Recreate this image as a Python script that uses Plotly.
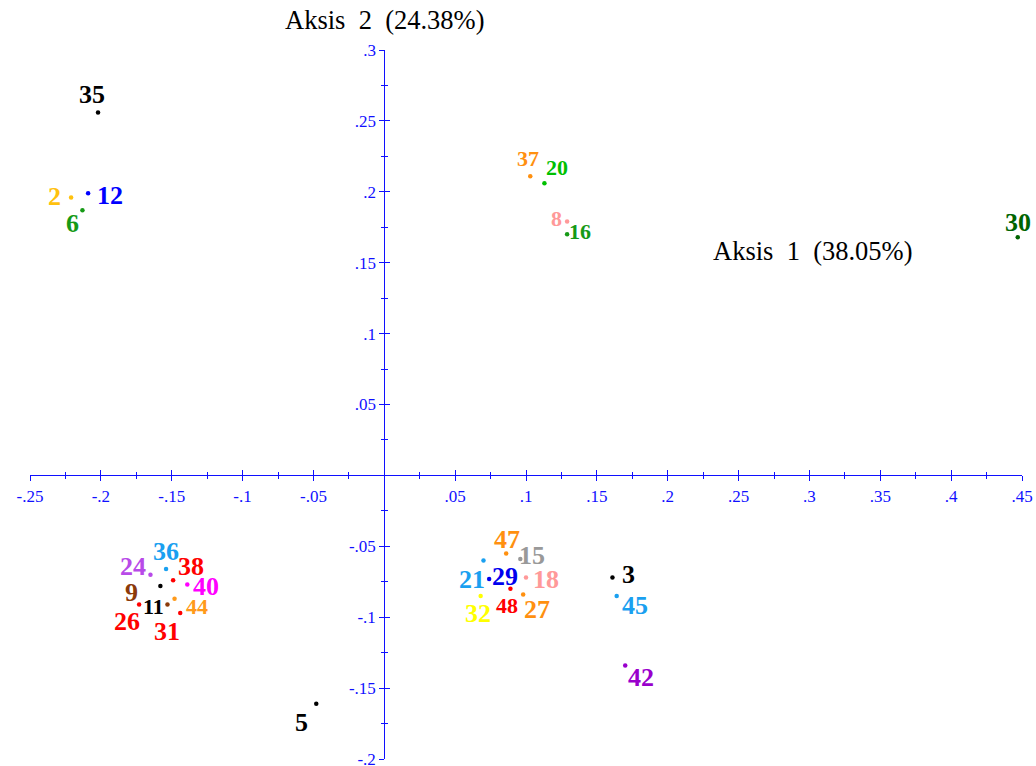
import plotly.graph_objects as go

# ---- data ----
ids = ["35", "2", "12", "6", "37", "20", "8", "16", "30",
       "24", "36", "38", "40", "11", "9", "26", "44", "31",
       "47", "15", "21", "29", "18", "48", "32", "27",
       "3", "45", "42", "5"]
axis1 = [-0.202, -0.221, -0.209, -0.213, 0.103, 0.113, 0.129, 0.129, 0.447,
         -0.165, -0.154, -0.149, -0.139, -0.158, -0.153, -0.173, -0.148, -0.144,
         0.086, 0.096, 0.070, 0.074, 0.100, 0.089, 0.068, 0.098,
         0.161, 0.164, 0.170, -0.048]
axis2 = [0.256, 0.196, 0.199, 0.187, 0.211, 0.206, 0.179, 0.170, 0.168,
         -0.070, -0.066, -0.074, -0.077, -0.078, -0.091, -0.091, -0.087, -0.097,
         -0.055, -0.059, -0.060, -0.073, -0.072, -0.080, -0.085, -0.084,
         -0.072, -0.085, -0.134, -0.161]

x_major = [-0.25, -0.2, -0.15, -0.1, -0.05, 0.05, 0.1, 0.15, 0.2, 0.25, 0.3, 0.35, 0.4, 0.45]
x_minor = [-0.225, -0.175, -0.125, -0.075, -0.025, 0.025, 0.075, 0.125, 0.175,
           0.225, 0.275, 0.325, 0.375, 0.425]
y_major = [-0.2, -0.15, -0.1, -0.05, 0.05, 0.1, 0.15, 0.2, 0.25, 0.3]
y_minor = [-0.175, -0.125, -0.075, -0.025, 0.025, 0.075, 0.125, 0.175, 0.225, 0.275]

axis1_title = "Aksis\u00a0\u00a01\u00a0\u00a0(38.05%)"
axis2_title = "Aksis\u00a0\u00a02\u00a0\u00a0(24.38%)"

# ---- styles ----
colors = ["#000000", "#ffc10e", "#0000ff", "#169a16", "#ff9010", "#00c000", "#ff9999", "#169a16", "#006400",
          "#b84ae8", "#1aa0f0", "#ff0000", "#ff00ff", "#000000", "#8b3a0a", "#ff0000", "#ff9a1a", "#ff0000",
          "#ff9010", "#999999", "#1aa0f0", "#0000ee", "#ff9999", "#ff0000", "#ffff00", "#ff9010",
          "#000000", "#1aa0f0", "#9900cc", "#000000"]
# label offsets from the dot, in pixels (dx right, dy down)
offsets = [(-6, -18), (-17, -1), (22, 2), (-10, 13), (-2, -18), (13, -16), (-11, -3), (13, -3), (0, -15),
           (-17, -8), (0, -17), (18, -14), (19, 2), (-7, 20), (-36, -12), (-12, 17), (22, 8), (-13, 19),
           (1, -14), (12, -4), (-11, 19), (16, -2), (20, 2), (-3, 17), (-3, 18), (14, 15),
           (16, -3), (18, 10), (16, 12), (-15, 19)]
big, small = 26, 22
sizes = [big, big, big, big, small, small, small, small, big,
         big, big, big, big, small, big, big, small, big,
         big, big, big, big, big, small, big, big,
         big, big, big, big]


def fmt(v):
    s = f"{v:g}"
    return s.replace("0.", ".")


AX = "#1010ff"
TICKFONT = dict(family="Liberation Serif", size=17, color=AX)
SERIF = "Liberation Serif"

fig = go.Figure()
fig.add_trace(go.Scatter(
    x=axis1, y=axis2, mode="markers",
    marker=dict(size=4.5, color=colors, line=dict(width=0)),
    cliponaxis=False, hoverinfo="skip", showlegend=False))
# helper invisible trace for the overlay axes (crossing ticks)
fig.add_trace(go.Scatter(x=[None], y=[None], xaxis="x2", yaxis="y2",
                         mode="markers", showlegend=False, hoverinfo="skip"))

xr = [-0.25, 0.45]
yr = [-0.2, 0.3]
xpos = (0 - yr[0]) / (yr[1] - yr[0])
ypos = (0 - xr[0]) / (xr[1] - xr[0])

common_x = dict(range=xr, domain=[0, 1], anchor="free", position=xpos, showgrid=False,
                zeroline=False, showline=True, linecolor=AX, linewidth=1,
                tickcolor=AX, tickwidth=1, fixedrange=True)
common_y = dict(range=yr, domain=[0, 1], anchor="free", position=ypos, showgrid=False,
                zeroline=False, showline=True, linecolor=AX, linewidth=1,
                tickcolor=AX, tickwidth=1, fixedrange=True)

fig.update_layout(
    width=1036, height=766,
    margin=dict(l=30, r=14, t=50, b=7, autoexpand=False),
    paper_bgcolor="white", plot_bgcolor="white",
    showlegend=False, hovermode=False,
    xaxis=dict(**common_x, ticks="outside", ticklen=5,
               tickmode="array", tickvals=x_major, ticktext=[fmt(v) for v in x_major],
               tickfont=TICKFONT, tickangle=0, ticklabeloverflow="allow",
               minor=dict(tickvals=x_minor, ticks="outside", ticklen=3, tickcolor=AX, showgrid=False)),
    xaxis2=dict(**common_x, overlaying="x", side="bottom", ticks="inside", ticklen=5,
                tickmode="array", tickvals=x_major, showticklabels=False,
                minor=dict(tickvals=x_minor, ticks="inside", ticklen=3, tickcolor=AX, showgrid=False)),
    yaxis=dict(**common_y, ticks="outside", ticklen=5,
               tickmode="array", tickvals=y_major, ticktext=[fmt(v) for v in y_major],
               tickfont=TICKFONT, ticklabeloverflow="allow",
               minor=dict(tickvals=y_minor, ticks="outside", ticklen=3, tickcolor=AX, showgrid=False)),
    yaxis2=dict(**common_y, overlaying="y", side="left", ticks="inside", ticklen=5,
                tickmode="array", tickvals=y_major, showticklabels=False,
                minor=dict(tickvals=y_minor, ticks="inside", ticklen=3, tickcolor=AX, showgrid=False)),
)

annotations = []
for name, xv, yv, c, (dx, dy), s in zip(ids, axis1, axis2, colors, offsets, sizes):
    annotations.append(dict(
        x=xv, y=yv, xref="x", yref="y", text=name, showarrow=False,
        xshift=dx, yshift=-dy, xanchor="center", yanchor="middle",
        font=dict(family=SERIF, size=s, color=c, weight="bold")))

annotations.append(dict(x=0, y=1, xref="x", yref="paper", text=axis2_title, showarrow=False,
                        xanchor="center", yanchor="middle", yshift=30,
                        font=dict(family=SERIF, size=26.5, color="black")))
annotations.append(dict(x=0.302, y=0.158, xref="x", yref="y", text=axis1_title, showarrow=False,
                        xanchor="center", yanchor="middle",
                        font=dict(family=SERIF, size=26.5, color="black")))
fig.update_layout(annotations=annotations)

# remove the default 8px page margin so the figure fills the window exactly
fig.write_html("out.html", config={"displayModeBar": False, "staticPlot": True},
               post_script="document.body.style.margin='0';document.body.style.overflow='hidden';")
